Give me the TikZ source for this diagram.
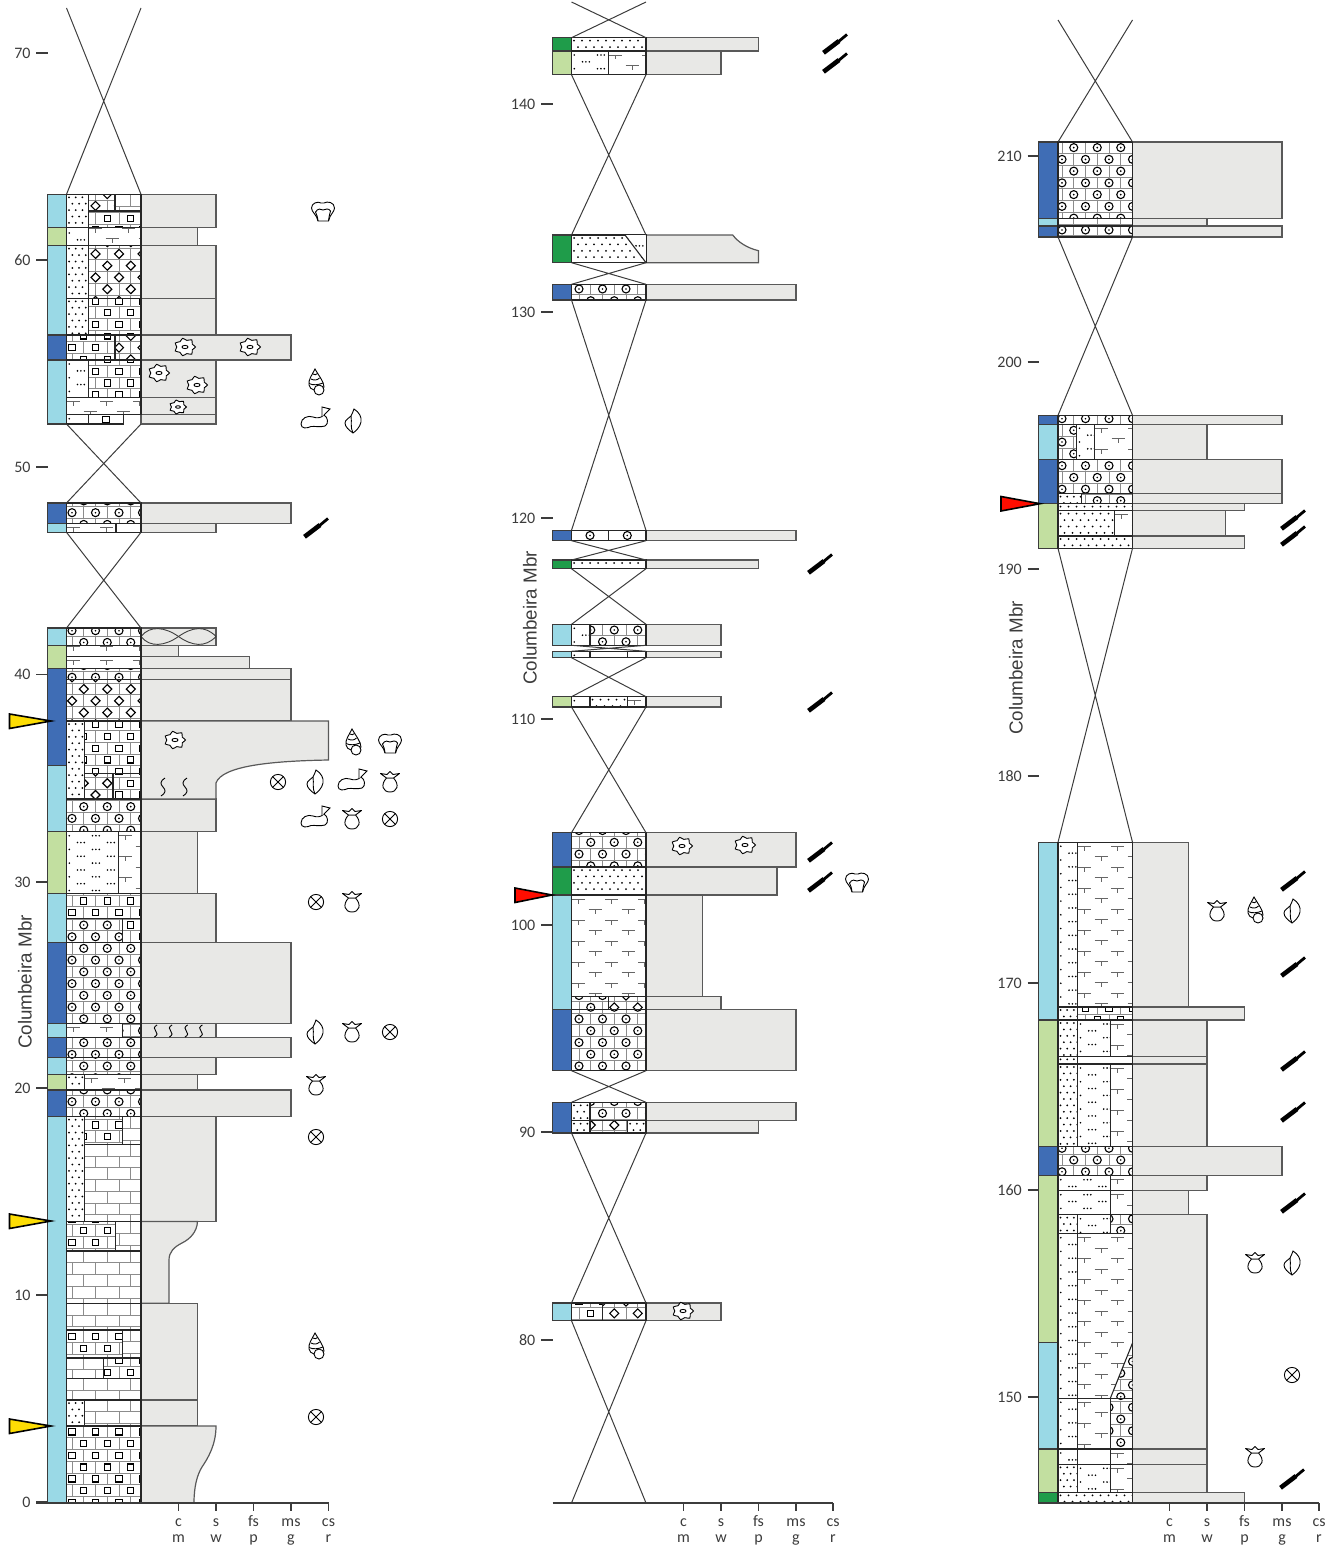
\documentclass[tikz,border=0pt]{standalone}
\usepackage{fontspec}
\setmainfont{Carlito}
\newfontfamily\mbrfont{Liberation Sans}
\definecolor{lagoon}{HTML}{9AD9E6}
\definecolor{shelf}{HTML}{3F6DB5}
\definecolor{marsh}{HTML}{C2DFA0}
\definecolor{delta}{HTML}{1F9C4A}
\definecolor{grainfill}{HTML}{E8E8E6}
\definecolor{inkgrey}{HTML}{3C3C3C}
\tikzset{
    stripbox/.style={draw=inkgrey, line width=1.1pt},
    grainbox/.style={draw=inkgrey!85, fill=grainfill, line width=1.2pt},
    bedline/.style={draw=black!85, line width=1.1pt},
    brickline/.style={draw=black!45, line width=0.9pt},
    gapline/.style={draw=inkgrey, line width=1pt},
    tickline/.style={draw=inkgrey, line width=1.1pt},
    depthlabel/.style={anchor=east, inner sep=0pt, font=\fontsize{16}{16}\selectfont, text=inkgrey},
    grainlabel/.style={anchor=base, inner sep=0pt, font=\fontsize{16}{16}\selectfont, text=inkgrey},
    mbrlabel/.style={rotate=90, inner sep=0pt, font=\mbrfont\fontsize{18.8}{18.8}\selectfont, text=inkgrey},
    fossil/.style={draw=black, line width=0.9pt, fill=white},
    none/.pic={},
    ool/.pic={
      \draw[black, line width=1.1pt, fill=white] (0,0) circle (4);
      \fill[black] (0,0) circle (0.9);
    },
    square/.pic={\draw[black, line width=1.1pt, fill=white] (-3.1,-3.1) rectangle (3.1,3.1);},
    lozenge/.pic={\draw[black, line width=1.1pt, fill=white] (-4.5,0) -- (0,-4.5) -- (4.5,0) -- (0,4.5) -- cycle;},
    coral/.pic={
      \draw[fossil] (-11.5,-3) .. controls (-11.5,-8) and (-5,-10) .. (-2,-8) .. controls (-1,-7.5) and (0,-7.5) .. (1,-8)
        .. controls (4,-10) and (11.5,-9) .. (11.5,-3) .. controls (11.5,1) and (7,3) .. (5.5,10) -- (-5,10) .. controls (-6,4) and (-11.5,1) .. (-11.5,-3) -- cycle;
      \draw[black, line width=0.9pt] (-7.5,1) .. controls (-5,-3) and (-2,-2) .. (0,-1) .. controls (2,-2) and (6,-3) .. (7.5,0);
      \draw[black, line width=0.9pt] (-7.5,1) .. controls (-6,4) and (-5.5,6) .. (-5,10) (7.5,0) .. controls (6.5,3) and (6,6) .. (5.5,10);
    },
    oncoid/.pic={
      \begin{scope}[yscale=0.85]
      \draw[fossil] plot[smooth cycle, tension=0.7] coordinates {(0:10.5) (24:8) (51:10.8) (77:8) (103:10.5) (129:8) (154:10.8) (180:8.2) (206:10.8) (232:8) (257:10.5) (283:8) (309:10.8) (335:8)};
      \end{scope}
      \draw[black, line width=0.9pt] (0,0) ellipse (3 and 1.6);
    },
    gastropod/.pic={
      \draw[fossil] (-1,-13) .. controls (-4,-7) and (-8,-2) .. (-7,3) .. controls (-7,6) and (-4,7) .. (-2,8) -- (8,5) .. controls (8,0) and (3,-6) .. (-1,-13) -- cycle;
      \draw[fossil] (3,8) circle (5);
      \draw[black, line width=0.9pt] (-3,-8) .. controls (-1,-7) and (0,-7) .. (1.5,-8.5) (-5,-3) .. controls (-2,-1.5) and (1,-1.5) .. (3.5,-4) (-7,1.5) .. controls (-3,3.5) and (2,3) .. (7,1);
    },
    oyster/.pic={
      \draw[fossil] (-14,7) .. controls (-14,1) and (-7,-2) .. (-2,0) .. controls (2,1.5) and (6,1) .. (9,-2) .. controls (13,0) and (14,7) .. (10,9)
        .. controls (5,10.5) and (0,9) .. (-4,9.5) .. controls (-8,11.5) and (-14,12) .. (-14,7) -- cycle;
      \draw[fossil] (7,-1) -- (7,-10) -- (15,-8) -- (9,-2);
    },
    bivalve/.pic={
      \draw[fossil] (1,-12) .. controls (6,-9) and (9,-4) .. (8,1) .. controls (7,6) and (3,10) .. (0,12) .. controls (-4,9) and (-8,6) .. (-8,2)
        .. controls (-8,-1) and (-4,-3) .. (-2,-5) .. controls (-1,-7) and (0,-9) .. (1,-12) -- cycle;
      \draw[black, line width=0.9pt] (-2,-5) .. controls (-1,1) and (-3,6) .. (0,12);
    },
    foram/.pic={
      \draw[fossil] (0,0) circle (7.6);
      \draw[black, line width=0.9pt] (-5.4,-5.4) -- (5.4,5.4) (-5.4,5.4) -- (5.4,-5.4);
    },
    echinoid/.pic={
      \draw[fossil] (-3.5,-4) .. controls (-10,3) and (-7,10) .. (0,10) .. controls (7,10) and (10,3) .. (3.5,-4) -- cycle;
      \draw[black, line width=0.9pt, line join=round, fill=white] (-3.5,-4) -- (-9.5,-8.5) -- (-3,-7.5) -- (0,-10.5) -- (3,-7.5) -- (9.5,-8.5) -- (3.5,-4) -- cycle;
    },
    plant/.pic={
      \draw[black, line width=4.6pt] (-11.5,8.8) -- (4,-3);
      \draw[black, line width=2.8pt] (3,-2) -- (12,-9.5);
    },
    burrow/.pic={\draw[black, line width=0.9pt] (2,-9) .. controls (-3,-6) and (-3,-3) .. (0,0) .. controls (3,3) and (3,6) .. (-2,9);},
    marker/.style={draw=black, line width=1.6pt, line join=miter}
}
\newcommand{\brickfill}[5]{%
  \pgfmathtruncatemacro{\nrows}{(#4-\yorg)/11.75}
  \foreach \k in {0,...,\nrows}{
    \pgfmathsetmacro{\yk}{\yorg+\k*11.75}
    \pgfmathsetmacro{\xk}{\xorg+5.5+mod(\k,2)*11.75}
    \draw[brickline] (#1,\yk) -- (#3,\yk);
    \foreach \j in {-1,...,3}{
      \pgfmathsetmacro{\xj}{\xk+\j*23.5}
      \draw[brickline] (\xj+11.75,\yk) -- ++(0,11.75);
      \pic at (\xj,\yk+5.87) {#5};
    }
  }}
\newcommand{\fillool}[4]{\brickfill{#1}{#2}{#3}{#4}{ool}}
\newcommand{\fillsq}[4]{\brickfill{#1}{#2}{#3}{#4}{square}}
\newcommand{\filldia}[4]{\brickfill{#1}{#2}{#3}{#4}{lozenge}}
\newcommand{\fillplain}[4]{\brickfill{#1}{#2}{#3}{#4}{none}}
\newcommand{\fillblank}[4]{}
\newcommand{\filldot}[4]{%
  \pgfmathsetmacro{\dx}{ifthenelse(#3-#1<30,6.7,8)}
  \pgfmathtruncatemacro{\nrows}{(#4-\yorg)/6.4}
  \pgfmathtruncatemacro{\ncols}{(#3-#1)/\dx}
  \foreach \k in {0,...,\nrows}{
    \foreach \j in {0,...,\ncols}{
      \fill[black] ({#1+2.5+mod(\k,2)*\dx/2+\j*\dx},{\yorg+3+\k*6.4}) circle (1);
    }
  }}
\newcommand{\fillsilt}[4]{%
  \pgfmathtruncatemacro{\nrows}{(#4-\yorg)/6.85}
  \pgfmathtruncatemacro{\ncols}{(#3-#1)/30+1}
  \foreach \k in {0,...,\nrows}{
    \foreach \j in {0,...,\ncols}{
      \foreach \d in {0,3.4,6.8}{
        \fill[black] ({#1-4+mod(\k,2)*15+\j*30+\d},{\yorg+4+\k*6.85}) circle (0.9);
      }
    }
  }}
\newcommand{\fillmarl}[4]{%
  \pgfmathtruncatemacro{\nrows}{(#4-\yorg)/10.5}
  \pgfmathtruncatemacro{\ncols}{(#3-#1)/33+1}
  \foreach \k in {0,...,\nrows}{
    \foreach \j in {-1,...,\ncols}{
      \draw[black!60, line width=0.9pt] ({#1+7+mod(\k,2)*16.5+\j*33-6.5},{\yorg+4+\k*10.5}) -- ++(13,0) ++(-6.5,0) -- ++(0,4.5);
    }
  }}
\newcommand{\bed}[6][0]{%
  \begin{scope}
    \clip (#2,#3) rectangle (#4,#5);
    \pgfmathsetmacro{\yorg}{#3-#1}
    \csname fill#6\endcsname{#2}{#3}{#4}{#5}
  \end{scope}
  \draw[bedline] (#2,#3) rectangle (#4,#5);}
\begin{document}
\begin{tikzpicture}[x=1pt, y=-1pt]
\useasboundingbox (0,0) rectangle (1339,1549);

% left column
\def\xorg{66.5}
\foreach \ya/\yb/\col in {194.3/227.3/lagoon, 227.3/245.7/marsh, 245.7/335/lagoon, 335/360/shelf, 360/424/lagoon,
    503/523.3/shelf, 523.3/532.3/lagoon, 628/645.3/lagoon, 645.3/668.3/marsh, 668.3/765.7/shelf, 765.7/831.7/lagoon,
    831.7/893.3/marsh, 893.3/942.3/lagoon, 942.3/1023.3/shelf, 1023.3/1037.7/lagoon, 1037.7/1057.3/shelf,
    1057.3/1074.3/lagoon, 1074.3/1090/marsh, 1090/1116.7/shelf, 1116.7/1503/lagoon}
  {\draw[stripbox, fill=\col] (47.5,\ya) rectangle (66.5,\yb);}
\foreach \ya/\yb/\xe in {194.3/227.3/216, 227.3/245.7/197.5, 245.7/298.3/216, 298.3/335/216, 335/360/291, 360/397.3/216,
    397.3/414.7/216, 414.7/424/216, 503/523.3/291, 523.3/532.3/216, 628/645.3/216, 645.3/656.7/178.7, 656.7/668.3/249.7,
    668.3/679.7/291, 679.7/721/291, 799/831.7/216, 831.7/893.3/197.5, 893.3/942.3/216, 942.3/1023.3/291, 1023.3/1037.7/216,
    1037.7/1057.3/291, 1057.3/1074.3/216, 1074.3/1090/197.5, 1090/1116.7/291, 1116.7/1221.5/216, 1303.3/1400/197.5, 1400/1426/197.5}
  {\draw[grainbox] (141,\ya) rectangle (\xe,\yb);}
\draw[grainbox] (141,721) -- (328.5,721) -- (328.5,760) .. controls (270,761) and (222,766) .. (216,783) -- (216,799) -- (141,799) -- cycle;
\draw[grainbox] (141,1221.5) -- (197.5,1221.5) .. controls (197,1232) and (190,1239) .. (182,1243) .. controls (174,1247) and (169,1252) .. (169,1260) -- (169,1303.3) -- (141,1303.3) -- cycle;
\draw[grainbox] (141,1426) -- (216,1426) .. controls (216,1445) and (208,1458) .. (202,1467) .. controls (197,1475) and (194,1487) .. (194,1503) -- (141,1503) -- cycle;
\draw[inkgrey, line width=0.9pt] (141,636.5) .. controls (150,625) and (165,627) .. (178.5,636.5) .. controls (192,646) and (205,648) .. (216,636.5);
\draw[inkgrey, line width=0.9pt] (141,636.5) .. controls (150,648) and (165,646) .. (178.5,636.5) .. controls (192,627) and (205,625) .. (216,636.5);

\bed{66.5}{194.3}{88.7}{227.3}{dot}
\bed[17.75]{88.7}{194.3}{115}{211}{dia}
\bed{115}{194.3}{141}{211}{plain}
\bed[10.3]{88.7}{211}{141}{227.3}{sq}
\bed[12]{66.5}{227.3}{88.7}{245.7}{silt}
\bed[3]{88.7}{227.3}{141}{245.7}{marl}
\bed{66.5}{245.7}{88.7}{298.3}{dot}
\bed[21.1]{88.7}{245.7}{141}{298.3}{dia}
\bed{66.5}{298.3}{88.7}{335}{dot}
\bed[3.2]{88.7}{298.3}{141}{335}{sq}
\bed[16.7]{66.5}{335}{115}{360}{sq}
\bed[16.7]{115}{335}{141}{360}{dia}
\bed{66.5}{360}{88.7}{397.3}{silt}
\bed[18.1]{88.7}{360}{141}{397.3}{sq}
\bed{66.5}{397.3}{141}{414.7}{marl}
\bed{66.5}{414.7}{88.7}{424}{silt}
\bed{88.7}{414.7}{123.7}{424}{blank}
\pic at (106,419.5) {square};
\draw[bedline] (123.7,414.7) -- (123.7,424);
\bed[19.7]{66.5}{503}{141}{523.3}{ool}
\bed{66.5}{523.3}{116}{532.3}{marl}
\bed{116}{523.3}{141}{532.3}{blank}
\bed[3.2]{66.5}{628}{141}{645.3}{ool}
\bed[3]{66.5}{645.3}{141}{656.7}{marl}
\bed{66.5}{656.7}{141}{668.3}{marl}
\bed[20.4]{66.5}{668.3}{141}{679.7}{ool}
\bed[8.3]{66.5}{679.7}{141}{721}{dia}
\bed{66.5}{721}{84.5}{799}{dot}
\bed[2.2]{84.5}{721}{141}{773.7}{sq}
\bed[8.1]{84.5}{773.7}{113}{799}{dia}
\bed[8.1]{113}{773.7}{141}{799}{sq}
\bed[10]{66.5}{799}{141}{831.7}{ool}
\bed{66.5}{831.7}{118.5}{893.3}{silt}
\bed{118.5}{831.7}{141}{893.3}{marl}
\bed[9.9]{66.5}{893.3}{141}{918.3}{sq}
\bed[10.9]{66.5}{918.3}{122.7}{942.3}{ool}
\bed[10.9]{122.7}{918.3}{141}{942.3}{sq}
\bed[11.6]{66.5}{942.3}{141}{1023.3}{ool}
\bed{66.5}{1023.3}{122.7}{1037.7}{marl}
\bed[22]{122.7}{1023.3}{141}{1037.7}{ool}
\bed[12.7]{66.5}{1037.7}{141}{1057.3}{ool}
\bed[8.9]{66.5}{1057.3}{141}{1074.3}{ool}
\bed{66.5}{1074.3}{84.5}{1090}{dot}
\bed{84.5}{1074.3}{141}{1090}{marl}
\bed[17.7]{66.5}{1090}{141}{1116.7}{ool}
\bed{66.5}{1116.7}{84.5}{1221.5}{dot}
\bed[21.1]{84.5}{1116.7}{122.7}{1144.3}{sq}
\bed{122.7}{1116.7}{141}{1144.3}{plain}
\bed{84.5}{1144.3}{141}{1221.5}{plain}
\bed[8.5]{66.5}{1221.5}{115.7}{1251}{sq}
\bed{115.7}{1221.5}{141}{1251}{plain}
\bed{66.5}{1251}{141}{1303.3}{plain}
\bed{66.5}{1303.3}{141}{1330}{plain}
\bed[22.7]{66.5}{1330}{122.7}{1358}{sq}
\bed{122.7}{1330}{141}{1358}{plain}
\bed{66.5}{1358}{103.5}{1378.7}{plain}
\bed[3.3]{103.5}{1358}{141}{1378.7}{sq}
\bed{66.5}{1378.7}{141}{1400}{plain}
\bed{66.5}{1400}{84.5}{1426}{dot}
\bed{84.5}{1400}{141}{1426}{plain}
\bed{66.5}{1426}{141}{1503}{sq}

\foreach \ya/\yb in {8/194.3, 424/503, 532.3/628}
  {\draw[gapline] (66.5,\ya) -- (141,\yb) (141,\ya) -- (66.5,\yb);}

% middle column
\def\xorg{573.5}
\foreach \ya/\yb/\col in {37.7/51/delta, 51/74.7/marsh, 235/262.7/delta, 284.3/300/shelf, 530.3/540.7/shelf, 560/568.7/delta,
    624.3/645.3/lagoon, 651.3/657.7/lagoon, 696.7/707/marsh, 832.7/867/shelf, 867/895/delta, 895/1009.3/lagoon,
    1009.3/1070.7/shelf, 1102.3/1133/shelf, 1303/1320.7/lagoon}
  {\draw[stripbox, fill=\col] (552.5,\ya) rectangle (571.5,\yb);}
\foreach \ya/\yb/\xe in {37.7/51/758.5, 51/74.7/721, 284.3/300/796, 530.3/540.7/796, 560/568.7/758.5, 624.3/645.3/721,
    651.3/657.7/721, 696.7/707/721, 832.7/867/796, 867/895/777, 895/996.7/702.3, 996.7/1009.3/721, 1009.3/1070.7/796,
    1102.3/1120.7/796, 1120.7/1133/758.5, 1303/1320.7/721}
  {\draw[grainbox] (646,\ya) rectangle (\xe,\yb);}
\draw[grainbox] (646,235) -- (732.7,235) .. controls (738,242) and (747,248) .. (758.5,250.7) -- (758.5,262.7) -- (646,262.7) -- cycle;

\bed{571.5}{37.7}{646}{51}{dot}
\bed{571.5}{51}{608.7}{74.7}{silt}
\bed{608.7}{51}{646}{74.7}{marl}
\bed{571.5}{235}{646}{262.7}{dot}
\begin{scope}
  \clip (625,235) -- (646,235) -- (646,262.7) -- cycle;
  \fill[white] (625,235) rectangle (646,262.7);
  \pgfmathsetmacro{\yorg}{235}
  \fillsilt{625}{235}{646}{262.7}
\end{scope}
\draw[bedline] (625,235) -- (646,262.7);
\bed[1.2]{571.5}{284.3}{646}{300}{ool}
\bed{571.5}{530.3}{608.7}{540.7}{blank}
\bed{608.7}{530.3}{646}{540.7}{blank}
\pic at (590,535.5) {ool};
\pic at (627.3,535.5) {ool};
\bed{571.5}{560}{646}{568.7}{dot}
\bed[11.9]{590}{624.3}{646}{645.3}{ool}
\bed{571.5}{624.3}{590}{645.3}{silt}
\bed{571.5}{651.3}{590}{657.7}{silt}
\bed{590}{651.3}{627.7}{657.7}{blank}
\bed{627.7}{651.3}{646}{657.7}{blank}
\bed{571.5}{696.7}{590}{707}{silt}
\bed{590}{696.7}{627.7}{707}{dot}
\bed{627.7}{696.7}{646}{707}{marl}
\bed[8]{571.5}{832.7}{646}{867}{ool}
\bed{571.5}{867}{646}{895}{dot}
\bed{571.5}{895}{646}{996.7}{marl}
\bed[7]{571.5}{996.7}{608.7}{1009.3}{ool}
\bed[7]{608.7}{996.7}{646}{1009.3}{dia}
\bed[19.7]{571.5}{1009.3}{646}{1070.7}{ool}
\bed{571.5}{1102.3}{590}{1120.7}{dot}
\bed[18.4]{590}{1102.3}{646}{1120.7}{ool}
\bed{571.5}{1120.7}{590}{1133}{dot}
\bed[13.3]{590}{1120.7}{627.7}{1133}{dia}
\bed{627.7}{1120.7}{646}{1133}{dot}
\bed[7.3]{571.5}{1303}{602.7}{1320.7}{sq}
\bed[7.3]{602.7}{1303}{646}{1320.7}{dia}

\foreach \ya/\yb in {2/37.7, 74.7/235, 262.7/284.3, 300/530.3, 540.7/560, 568.7/624.3, 645.3/651.3, 657.7/696.7, 707/832.7, 1070.7/1102.3, 1133/1303, 1320.7/1503}
  {\draw[gapline] (571.5,\ya) -- (646,\yb) (646,\ya) -- (571.5,\yb);}

% right column
\def\xorg{1056.5}
\foreach \ya/\yb/\col in {142/218.3/shelf, 218.3/226/lagoon, 226/237/shelf, 415.3/424.3/shelf, 424.3/459.3/lagoon, 459.3/503.7/shelf,
    503.7/548.3/marsh, 842.3/1020/lagoon, 1020/1146.7/marsh, 1146.7/1175.7/shelf, 1175.7/1342.7/marsh, 1342.7/1449/lagoon,
    1449/1492.3/marsh, 1492.3/1503/delta}
  {\draw[stripbox, fill=\col] (1038.5,\ya) rectangle (1058,\yb);}
\foreach \ya/\yb/\xe in {142/218.3/1282, 218.3/226/1207, 226/237/1282, 415.3/424.3/1282, 424.3/459.3/1207, 459.3/493.7/1282,
    493.7/503.7/1282, 503.7/510.7/1244.5, 510.7/536/1225.7, 536/548.3/1244.5, 842.3/1007/1188.7, 1007/1020/1244.5,
    1020/1056.3/1207, 1056.3/1064/1207, 1064/1146.7/1207, 1146.7/1175.7/1282, 1175.7/1190.7/1207, 1190.7/1214.7/1188.7,
    1214.7/1449/1207, 1449/1464.3/1207, 1464.3/1492.3/1207, 1492.3/1503/1244.5}
  {\draw[grainbox] (1132.5,\ya) rectangle (\xe,\yb);}

\bed[12]{1058}{142}{1132.5}{218.3}{ool}
\bed[6]{1058}{218.3}{1132.5}{226}{plain}
\bed[1.9]{1058}{226}{1132.5}{237}{ool}
\bed[2.5]{1058}{415.3}{1132.5}{424.3}{ool}
\bed[11.6]{1058}{424.3}{1076.7}{459.3}{ool}
\bed{1076.7}{424.3}{1094.7}{459.3}{silt}
\bed{1094.7}{424.3}{1132.5}{459.3}{marl}
\bed[23]{1058}{459.3}{1132.5}{493.7}{ool}
\bed{1058}{493.7}{1081.7}{503.7}{dot}
\bed[10.7]{1081.7}{493.7}{1132.5}{503.7}{ool}
\bed{1058}{503.7}{1132.5}{510.7}{dot}
\bed{1058}{510.7}{1114.7}{536}{dot}
\bed{1114.7}{510.7}{1132.5}{536}{marl}
\bed{1058}{536}{1132.5}{548.3}{dot}
\bed{1058}{842.3}{1077.7}{1007}{silt}
\bed{1077.7}{842.3}{1132.5}{1007}{marl}
\bed{1058}{1007}{1077.7}{1020}{dot}
\bed[4.6]{1077.7}{1007}{1132.5}{1020}{sq}
\bed{1058}{1020}{1077.7}{1056.3}{dot}
\bed{1077.7}{1020}{1110.3}{1056.3}{silt}
\bed{1110.3}{1020}{1132.5}{1056.3}{marl}
\bed{1058}{1056.3}{1077.7}{1064}{dot}
\bed{1077.7}{1056.3}{1132.5}{1064}{blank}
\bed{1058}{1064}{1077.7}{1146.7}{dot}
\bed{1077.7}{1064}{1110.3}{1146.7}{silt}
\bed{1110.3}{1064}{1132.5}{1146.7}{marl}
\bed[4.3]{1058}{1146.7}{1132.5}{1175.7}{ool}
\bed{1058}{1175.7}{1110.3}{1190.7}{silt}
\bed{1110.3}{1175.7}{1132.5}{1190.7}{marl}
\bed{1058}{1190.7}{1110.3}{1214.7}{silt}
\bed{1110.3}{1190.7}{1132.5}{1214.7}{marl}
\bed{1058}{1214.7}{1077.7}{1233.7}{dot}
\bed{1077.7}{1214.7}{1110.3}{1233.7}{silt}
\bed[1.7]{1110.3}{1214.7}{1132.5}{1233.7}{ool}
\bed{1058}{1233.7}{1077.7}{1398.3}{silt}
\bed{1077.7}{1233.7}{1132.5}{1398.3}{marl}
\begin{scope}
  \clip (1110.3,1398.3) -- (1132.5,1343) -- (1132.5,1398.3) -- cycle;
  \fill[white] (1105,1343) rectangle (1132.5,1398.3);
  \pgfmathsetmacro{\yorg}{1332.1}
  \fillool{1100}{1343}{1132.5}{1398.3}
\end{scope}
\draw[bedline] (1110.3,1398.3) -- (1132.5,1343);
\bed{1058}{1398.3}{1077.7}{1449}{silt}
\bed{1077.7}{1398.3}{1110.3}{1449}{marl}
\bed[20.4]{1110.3}{1398.3}{1132.5}{1449}{ool}
\bed{1058}{1449}{1077.7}{1464.3}{silt}
\bed{1077.7}{1449}{1110.3}{1464.3}{blank}
\bed{1110.3}{1449}{1132.5}{1464.3}{marl}
\bed{1058}{1464.3}{1077.7}{1492.3}{dot}
\bed{1077.7}{1464.3}{1110.3}{1492.3}{silt}
\bed{1110.3}{1464.3}{1132.5}{1492.3}{marl}
\bed{1058}{1492.3}{1132.5}{1503}{dot}

\foreach \ya/\yb in {20/142, 237/415.3, 548.3/842.3}
  {\draw[gapline] (1058,\ya) -- (1132.5,\yb) (1132.5,\ya) -- (1058,\yb);}

% depth scales
\foreach \v/\y in {0/1502, 10/1295, 20/1088, 30/882, 40/674.5, 50/467, 60/260, 70/53}
  {\node[depthlabel] (depth\v) at (30.7,\y) {\v};
   \draw[tickline] (36,\y) -- (47.5,\y);}
\foreach \v/\y in {80/1340, 90/1132, 100/925, 110/719, 120/518, 130/312, 140/104}
  {\node[depthlabel] (depth\v) at (535.5,\y) {\v};
   \draw[tickline] (541,\y) -- (552.5,\y);}
\foreach \v/\y in {150/1397, 160/1190, 170/983, 180/776, 190/569, 200/362, 210/156}
  {\node[depthlabel] (depth\v) at (1022,\y) {\v};
   \draw[tickline] (1027.5,\y) -- (1038.5,\y);}

% grain scales
\foreach \xo/\xe/\n in {36/328.5/a, 552.5/833/b, 1038.5/1319/c}
  {\draw[tickline] (\xo,1503) -- (\xe,1503);}
\foreach \xt/\ta/\tb/\n in {178.5/c/m/a1, 216/s/w/a2, 253.5/fs/p/a3, 291/ms/g/a4, 328.5/cs/r/a5,
    683.5/c/m/b1, 721/s/w/b2, 758.5/fs/p/b3, 796/ms/g/b4, 833/cs/r/b5,
    1169.5/c/m/c1, 1207/s/w/c2, 1244.5/fs/p/c3, 1282/ms/g/c4, 1319/cs/r/c5}
  {\draw[tickline] (\xt,1503) -- (\xt,1511);
   \node[grainlabel] (rock\n) at (\xt,1526.5) {\ta};
   \node[grainlabel] (sand\n) at (\xt,1542.7) {\tb};}

% member labels
\node[mbrlabel] (mbrleft) at (25,982) {Columbeira Mbr};
\node[mbrlabel] (mbrmid) at (530,618) {Columbeira Mbr};
\node[mbrlabel] (mbrright) at (1016,668) {Columbeira Mbr};

% markers
\foreach \y in {721, 1221, 1426}
  {\draw[marker, fill=yellow!80!orange] (9.5,\y-7) -- (51,\y) -- (9.5,\y+7.5) -- cycle;}
\draw[marker, fill=red!90!orange] (515,888) -- (552,895) -- (515,902.5) -- cycle;
\draw[marker, fill=red!90!orange] (1001,496.5) -- (1040,503.7) -- (1001,511) -- cycle;

% fossils
\foreach \x/\y in {323/211, 390/743, 857/882}
  {\pic at (\x,\y) {coral};}
\foreach \x/\y in {185/347, 250/347, 159/373, 197/385, 175/740, 682/846, 745/845, 683/1311}
  {\pic at (\x,\y) {oncoid};}
\pic[scale=0.8] at (178,407) {oncoid};
\foreach \x/\y in {316/382, 353/742, 316/1346, 1255/910}
  {\pic at (\x,\y) {gastropod};}
\foreach \x/\y in {315/417, 352/779, 315/816}
  {\pic at (\x,\y) {oyster};}
\foreach \x/\y in {353/421, 315/782, 315/1032, 1292/911, 1292/1263}
  {\pic at (\x,\y) {bivalve};}
\foreach \x/\y in {278/782, 390/819, 316/902, 390/1032, 316/1137, 316/1417, 1292/1375}
  {\pic at (\x,\y) {foram};}
\foreach \x/\y in {390/782, 352/819, 352/902, 352/1032, 316/1085, 1217/911, 1255/1263, 1255/1457}
  {\pic at (\x,\y) {echinoid};}
\foreach \x/\y in {316/528, 835/44, 835/63, 820/564, 820/702, 820/852, 820/882, 1293/520, 1293/536, 1293/881, 1293/967, 1293/1061, 1293/1112, 1293/1203, 1292/1479}
  {\pic at (\x,\y) {plant};}
\foreach \x in {163, 185}
  {\pic at (\x,787) {burrow};}
\foreach \x in {155.7, 170.7, 186.3, 201}
  {\pic[scale=0.68] at (\x,1031) {burrow};}
\end{tikzpicture}
\end{document}
